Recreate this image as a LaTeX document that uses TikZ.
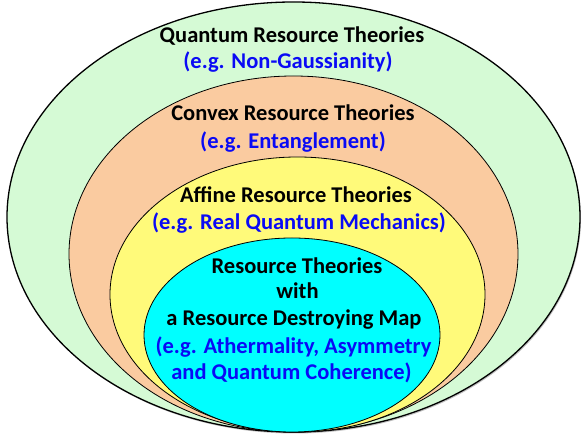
\documentclass[tikz,border=0pt]{standalone}
\usepackage{fontspec}
\setmainfont{Carlito}
\usetikzlibrary{shapes.geometric}
\definecolor{setgreen}{RGB}{213,250,213}
\definecolor{setorange}{RGB}{250,203,160}
\definecolor{setyellow}{RGB}{255,250,122}
\definecolor{setcyan}{RGB}{0,255,255}
\definecolor{egblue}{RGB}{10,10,245}
\tikzset{
  setell/.style={ellipse, draw=black, line width=0.8pt, inner sep=0pt},
  shadowell/.style={ellipse, fill=black, opacity=0.25, inner sep=0pt, draw=none},
  title/.style={anchor=base, font=\fontsize{22.5}{26}\selectfont\bfseries, text=black, inner sep=0pt},
  example/.style={title, text=egblue}
}
\begin{document}
\begin{tikzpicture}[x=1pt,y=1pt]
\useasboundingbox (0,0) rectangle (582,441);
% shadows
\node[shadowell, minimum width=573pt, minimum height=430pt] (qrts) at (294.5,222.5) {};
% sets
\node[setell, line width=1.3pt, fill=setgreen, minimum width=573pt, minimum height=430pt] (qrt) at (293.5,224) {};
\node[setell, fill=setorange, minimum width=449pt, minimum height=356pt] (crt) at (293.5,187) {};
\node[setell, fill=setyellow, minimum width=375pt, minimum height=275pt] (art) at (297.5,146.5) {};
\node[setell, fill=setcyan, minimum width=296pt, minimum height=194pt] (rdm) at (292,106) {};
% texts
\node[title] (q1) at (292,398) {Quantum Resource Theories};
\node[example] (q2) at (288,372) {(e.g. Non-Gaussianity)};
\node[title] (c1) at (293,320) {Convex Resource Theories};
\node[example] (c2) at (293,292.5) {(e.g. Entanglement)};
\node[title] (a1) at (296,238) {Affine Resource Theories};
\node[example] (a2) at (299,211) {(e.g. Real Quantum Mechanics)};
\node[title] (r1) at (297,167.5) {Resource Theories};
\node[title] (r2) at (297.5,142) {with};
\node[title] (r3) at (294,115) {a Resource Destroying Map};
\node[example] (r4) at (293.5,87.5) {(e.g. Athermality, Asymmetry};
\node[example] (r5) at (291.5,61) {and Quantum Coherence)};
\end{tikzpicture}
\end{document}
